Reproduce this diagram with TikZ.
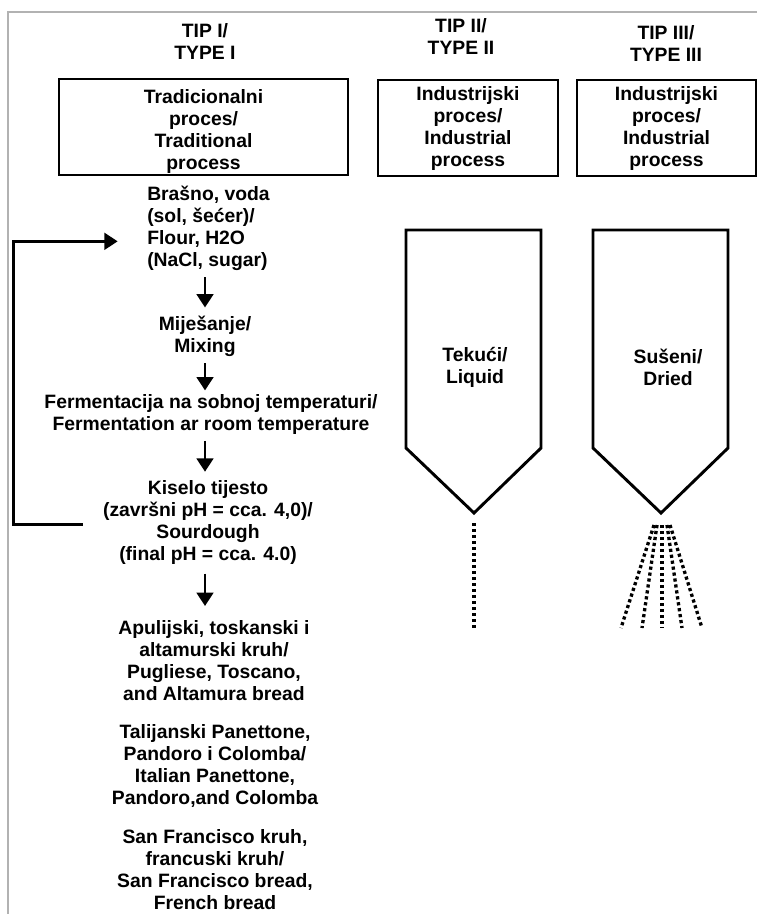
\documentclass[tikz,border=0pt]{standalone}
\usepackage{fontspec}
\setmainfont{Liberation Sans}
\usetikzlibrary{arrows.meta}
\begin{document}
\begin{tikzpicture}[x=0.75pt,y=-0.75pt,
txt/.style={font=\bfseries\fontsize{14.5}{16.5}\selectfont,align=center,inner sep=0pt},
box/.style={txt,draw,line width=0.9pt,minimum height=72pt},
arr/.style={line width=2pt,-{Triangle[width=12.5pt,length=10pt]},shorten <=5pt,shorten >=6pt},
fb/.style={line width=2.2pt,-{Triangle[width=12.5pt,length=10pt]}},
silo/.style={line width=2.2pt,line join=miter},
spray/.style={line width=2.5pt,dash pattern=on 2.4pt off 2.1pt}]
\useasboundingbox(0,0)rectangle(757,914);
\draw[black!30,line width=1.1pt](757,12)--(8,12)--(8,914);
\node[txt](h1)at(205,41){TIP I/\\TYPE I};
\node[txt](h2)at(461,36){TIP II/\\TYPE II};
\node[txt](h3)at(666,43){TIP III/\\TYPE III};
\node[box,minimum width=216.75pt](b1)at(203.5,127){\rule{0pt}{18pt}Tradicionalni\\proces/\\Traditional\\process};
\node[box,minimum width=135pt](b2)at(468,128){Industrijski\\proces/\\Industrial\\process};
\node[box,minimum width=134.25pt](b3)at(666.5,128){Industrijski\\proces/\\Industrial\\process};
\node[txt,align=left,anchor=west](flour)at(147,228){Brašno, voda\\(sol, šećer)/\\Flour, H2O\\(NaCl, sugar)};
\node[txt](mix)at(205,336){Miješanje/\\Mixing};
\node[txt](ferm)at(211,414){Fermentacija na sobnoj temperaturi/\\Fermentation ar room temperature};
\node[txt](sour)at(208,522){Kiselo tijesto\\(završni pH = cca. 4,0)/\\Sourdough\\(final pH = cca. 4.0)};
\node[txt](bread1)at(214,661){Apulijski, toskanski i\\altamurski kruh/\\Pugliese, Toscano,\\and Altamura bread};
\node[txt](bread2)at(215,766){Talijanski Panettone,\\Pandoro i Colomba/\\Italian Panettone,\\Pandoro,and Colomba};
\node[txt](bread3)at(215,870){San Francisco kruh,\\francuski kruh/\\San Francisco bread,\\French bread};
\draw[arr](flour.south-|mix.north)--(mix.north);
\draw[arr,shorten >=2.5pt](mix.south)--(ferm.north-|mix.south);
\draw[arr](ferm.south-|mix.south)--(sour.north-|mix.south);
\draw[arr,shorten <=7pt,shorten >=11pt](sour.south-|mix.south)--(bread1.north-|mix.south);
\draw[fb]([xshift=-15pt,yshift=-2pt]sour.west)--++(-69,0)|-([xshift=-22pt,yshift=-10pt]flour.west);
\foreach \c in {473,660}\draw[silo](\c-67,230)--(\c-67,448)--(\c+1,513)--(\c+68,448)--(\c+68,230)--cycle;
\node[txt](liquid)at(475,367){Tekući/\\Liquid};
\node[txt](dried)at(668,367){Sušeni/\\Dried};
\draw[spray](474,523)--(474,628);
\foreach \a/\b in {654/621,657/642,662/662,667/682,670/702}\draw[spray](\a,525)--(\b,628);
\end{tikzpicture}
\end{document}
